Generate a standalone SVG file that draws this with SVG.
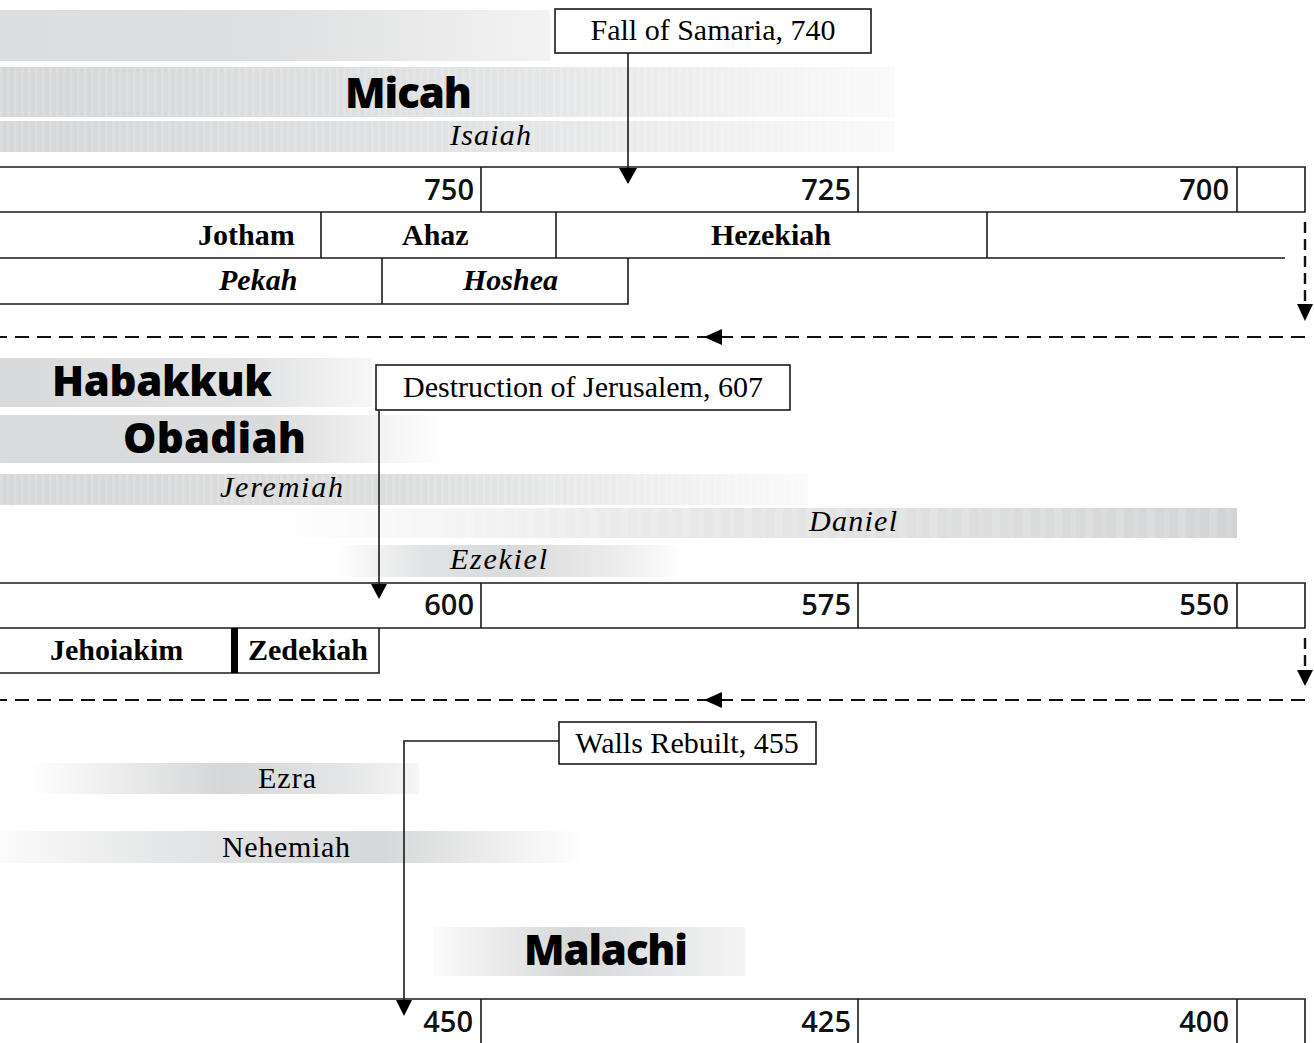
<svg xmlns="http://www.w3.org/2000/svg" width="1314" height="1043" viewBox="0 0 1314 1043">
<style>
.ln{stroke:#1a1a1a;stroke-width:1.6;fill:none}
.box{fill:#fff;stroke:#1a1a1a;stroke-width:1.6}
.dash{stroke:#111;stroke-width:2.2;fill:none;stroke-dasharray:14 8}
.vdash{stroke:#111;stroke-width:2.4;fill:none;stroke-dasharray:11 6}
.serif{font-family:"Liberation Serif","Times New Roman",serif;font-size:30px;fill:#000}
.king{font-weight:bold}
.ital{font-style:italic}
.num{font-family:"Open Sans","Liberation Sans",sans-serif;font-size:29px;font-weight:600;fill:#111;text-anchor:end}
.big{font-family:"Open Sans","Liberation Sans",sans-serif;font-size:42px;font-weight:800;fill:#000}
.head{fill:#000}
</style>
<defs>
<linearGradient id="gTop" x1="0" x2="1" y1="0" y2="0"><stop offset="0" stop-color="#dcddde"/><stop offset="0.5" stop-color="#dfe0e1"/><stop offset="1" stop-color="#f3f3f3"/></linearGradient>
<linearGradient id="gMicah" x1="0" x2="1" y1="0" y2="0"><stop offset="0" stop-color="#d5d6d7"/><stop offset="0.55" stop-color="#e2e3e4"/><stop offset="1" stop-color="#fafafa"/></linearGradient>
<linearGradient id="gHab" x1="0" x2="1" y1="0" y2="0"><stop offset="0" stop-color="#d8d9da"/><stop offset="0.7" stop-color="#e2e3e4"/><stop offset="1" stop-color="#f7f7f7"/></linearGradient>
<linearGradient id="gOba" x1="0" x2="1" y1="0" y2="0"><stop offset="0" stop-color="#dadbdc"/><stop offset="0.6" stop-color="#d9dadb"/><stop offset="0.8" stop-color="#eeeeee"/><stop offset="1" stop-color="#ffffff"/></linearGradient>
<linearGradient id="gJer" x1="0" x2="1" y1="0" y2="0"><stop offset="0" stop-color="#d6d7d8"/><stop offset="0.5" stop-color="#dcdddd"/><stop offset="1" stop-color="#fafafa"/></linearGradient>
<linearGradient id="gDan" x1="0" x2="1" y1="0" y2="0"><stop offset="0" stop-color="#ffffff"/><stop offset="0.35" stop-color="#ebebeb"/><stop offset="1" stop-color="#d3d4d5"/></linearGradient>
<linearGradient id="gEze" x1="0" x2="1" y1="0" y2="0"><stop offset="0" stop-color="#ffffff"/><stop offset="0.25" stop-color="#e2e3e4"/><stop offset="0.5" stop-color="#d9dadb"/><stop offset="0.8" stop-color="#ececec"/><stop offset="1" stop-color="#ffffff"/></linearGradient>
<linearGradient id="gEzra" x1="0" x2="1" y1="0" y2="0"><stop offset="0" stop-color="#ffffff"/><stop offset="0.5" stop-color="#d5d6d7"/><stop offset="0.8" stop-color="#e4e5e6"/><stop offset="1" stop-color="#f6f6f6"/></linearGradient>
<linearGradient id="gNeh" x1="0" x2="1" y1="0" y2="0"><stop offset="0" stop-color="#fbfbfb"/><stop offset="0.3" stop-color="#e4e5e6"/><stop offset="0.65" stop-color="#d6d7d8"/><stop offset="1" stop-color="#ffffff"/></linearGradient>
<linearGradient id="gMal" x1="0" x2="1" y1="0" y2="0"><stop offset="0" stop-color="#fbfbfb"/><stop offset="0.45" stop-color="#d6d7d8"/><stop offset="0.75" stop-color="#e6e7e8"/><stop offset="1" stop-color="#f4f4f4"/></linearGradient>
<pattern id="stripes" width="7" height="10" patternUnits="userSpaceOnUse"><rect width="2.5" height="10" fill="#fff" opacity="0.16"/></pattern>
<pattern id="bands" width="31" height="10" patternUnits="userSpaceOnUse"><rect width="8" height="10" fill="#fff" opacity="0.14"/><rect x="17" width="5" height="10" fill="#fff" opacity="0.1"/></pattern>
</defs>

<g id="prophet-bars">
<g id="bar-top"><rect x="0" y="10" width="550" height="51" fill="url(#gTop)"/></g>
<g id="micah"><rect x="0" y="67" width="895" height="50" fill="url(#gMicah)"/><rect x="0" y="67" width="895" height="50" fill="url(#stripes)"/>
<text class="big" x="345" y="108" font-weight="700" textLength="127">Micah</text></g>
<g id="isaiah"><rect x="0" y="121" width="895" height="31" fill="url(#gMicah)"/><rect x="0" y="121" width="895" height="31" fill="url(#stripes)"/>
<text class="serif ital" x="450" y="145" textLength="81">Isaiah</text></g>
<g id="habakkuk"><rect x="0" y="358" width="372" height="49" fill="url(#gHab)"/>
<text class="big" x="52" y="396" textLength="220">Habakkuk</text></g>
<g id="obadiah"><rect x="0" y="415" width="445" height="48" fill="url(#gOba)"/>
<text class="big" x="123" y="453" textLength="183">Obadiah</text></g>
<g id="jeremiah"><rect x="0" y="474" width="808" height="31" fill="url(#gJer)"/><rect x="0" y="474" width="808" height="31" fill="url(#stripes)"/>
<text class="serif ital" x="220" y="497" textLength="123">Jeremiah</text></g>
<g id="daniel"><rect x="270" y="508" width="967" height="30" fill="url(#gDan)"/><rect x="270" y="508" width="967" height="30" fill="url(#bands)"/>
<text class="serif ital" x="809" y="531" textLength="88">Daniel</text></g>
<g id="ezekiel"><rect x="335" y="545" width="350" height="32" fill="url(#gEze)"/>
<text class="serif ital" x="450" y="569" textLength="97">Ezekiel</text></g>
<g id="ezra"><rect x="28" y="763" width="391" height="31" fill="url(#gEzra)"/>
<text class="serif" x="258" y="788" textLength="58">Ezra</text></g>
<g id="nehemiah"><rect x="0" y="831" width="585" height="32" fill="url(#gNeh)"/>
<text class="serif" x="222" y="857" textLength="128">Nehemiah</text></g>
<g id="malachi"><rect x="433" y="927" width="312" height="49" fill="url(#gMal)"/>
<text class="big" x="524" y="965" textLength="164">Malachi</text></g>
</g>

<g id="timeline-1">
<path class="ln" d="M0 167H1305V212H0M481 167V212M858 167V212M1237 167V212"/>
<text class="num" x="474" y="200">750</text>
<text class="num" x="851" y="200">725</text>
<text class="num" x="1229" y="200">700</text>
</g>
<g id="kings-judah-1">
<path class="ln" d="M0 258H1285M321 212V258M556 212V258M987 212V258"/>
<text class="serif king" x="198" y="245">Jotham</text>
<text class="serif king" x="402" y="245">Ahaz</text>
<text class="serif king" x="711" y="245">Hezekiah</text>
</g>
<g id="kings-israel">
<path class="ln" d="M0 304H628V258M382 258V304"/>
<text class="serif king ital" x="219" y="290">Pekah</text>
<text class="serif king ital" x="463" y="290">Hoshea</text>
</g>

<g id="timeline-2">
<path class="ln" d="M0 583H1305V628H0M481 583V628M858 583V628M1237 583V628"/>
<text class="num" x="474" y="615">600</text>
<text class="num" x="851" y="615">575</text>
<text class="num" x="1229" y="615">550</text>
</g>
<g id="kings-judah-2">
<path class="ln" d="M0 673H379V628"/>
<rect x="231" y="628" width="7" height="45" fill="#000"/>
<text class="serif king" x="50" y="660">Jehoiakim</text>
<text class="serif king" x="248" y="660">Zedekiah</text>
</g>

<g id="timeline-3">
<path class="ln" d="M0 999H1305V1043M481 999V1043M858 999V1043M1237 999V1043"/>
<text class="num" x="473" y="1032">450</text>
<text class="num" x="851" y="1032">425</text>
<text class="num" x="1229" y="1032">400</text>
</g>

<g id="event-samaria"><rect class="box" x="555" y="9" width="316" height="44"/><text class="serif" x="713" y="40" text-anchor="middle">Fall of Samaria, 740</text></g>
<g id="event-jerusalem"><rect class="box" x="376" y="365" width="414" height="45"/><text class="serif" x="583" y="397" text-anchor="middle">Destruction of Jerusalem, 607</text></g>
<g id="event-walls"><rect class="box" x="559" y="722" width="257" height="42"/><text class="serif" x="687" y="753" text-anchor="middle">Walls Rebuilt, 455</text></g>

<g id="connectors">
<path class="ln" d="M628 53V170"/><polygon class="head" points="619,168 637,168 628,184"/>
<path class="ln" d="M379 410V586"/><polygon class="head" points="371,584 387,584 379,599"/>
<path class="ln" d="M559 741H404V1002"/><polygon class="head" points="396,1000 412,1000 404,1016"/>
<path class="vdash" d="M1305 222V304"/><polygon class="head" points="1297,304 1313,304 1305,321"/>
<path class="dash" d="M1305 337H0"/><polygon class="head" points="704,337 722,329 722,345"/>
<path class="vdash" d="M1305 638V670"/><polygon class="head" points="1297,670 1313,670 1305,686"/>
<path class="dash" d="M1305 700H0"/><polygon class="head" points="704,700 722,692 722,708"/>
</g>
</svg>
